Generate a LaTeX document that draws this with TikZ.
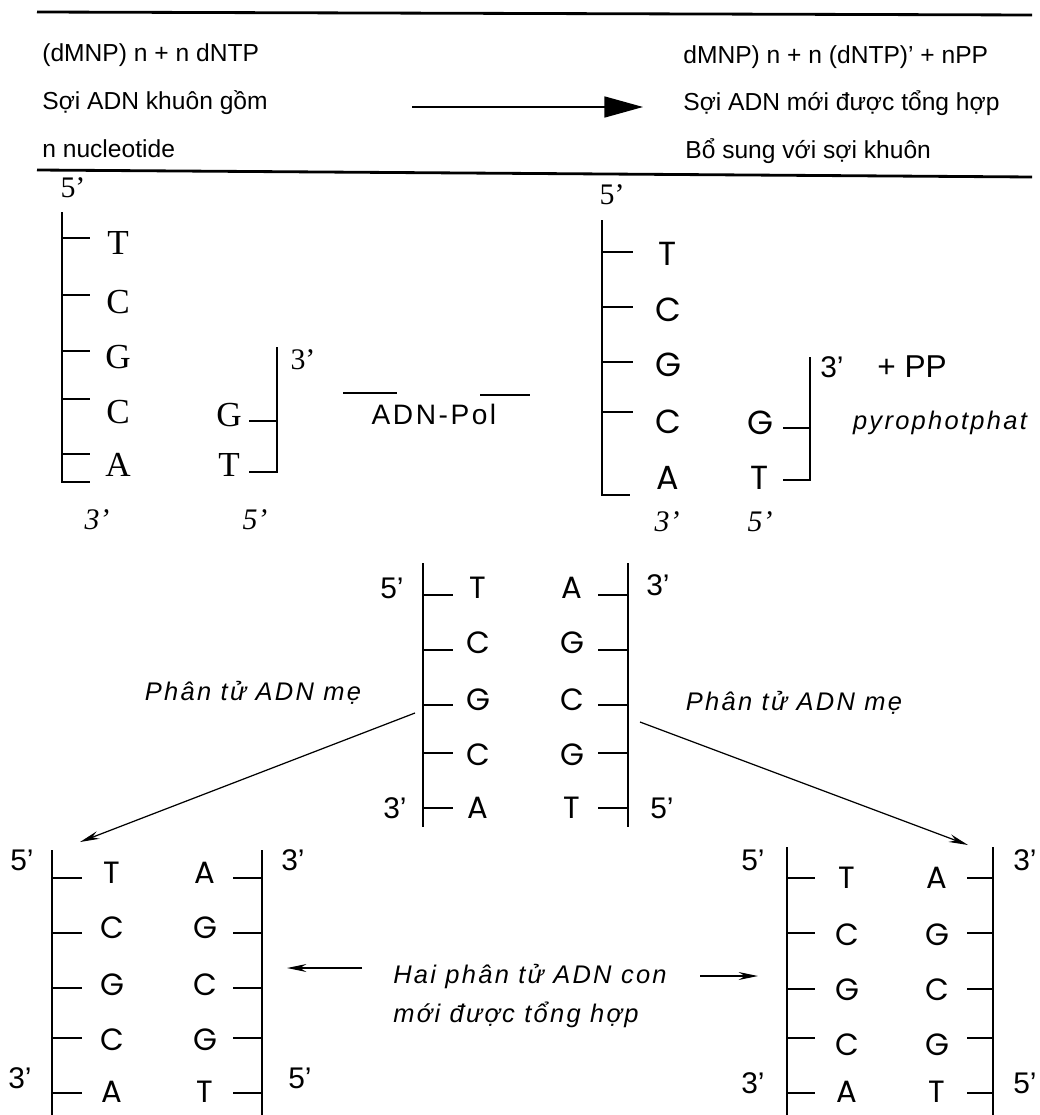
\documentclass[tikz,border=0pt]{standalone}
\usepackage{fontspec}
\setmainfont{Liberation Serif}
\setsansfont{Liberation Sans}
\newfontfamily\geofont{Poppins}
\newfontfamily\handfont[LetterSpace=9]{Liberation Sans}
\usetikzlibrary{arrows.meta}

\tikzset{
  strand/.style={line width=1.4pt},
  bond/.style={line width=1pt},
  rule/.style={line width=1.6pt},
  hdr/.style={anchor=west,inner sep=0pt,font=\sffamily\fontsize{14}{16}\selectfont},
  tbase/.style={inner sep=0pt,font=\fontsize{20}{22}\selectfont},
  gbase/.style={inner sep=0pt,font=\geofont\fontsize{17.5}{19}\selectfont},
  bigbase/.style={inner sep=0pt,font=\geofont\fontsize{19}{21}\selectfont},
  send/.style={inner sep=0pt,font=\fontsize{17}{19}\selectfont},
  nend/.style={inner sep=0pt,font=\sffamily\fontsize{17}{19}\selectfont},
  hand/.style={inner sep=0pt,font=\handfont\itshape\fontsize{14.5}{17}\selectfont},
  split/.style={line width=0.7pt,-{Stealth[length=11pt,width=4.5pt]}},
  short/.style={line width=1pt,-{Stealth[length=11pt,width=4.5pt]}}
}

\begin{document}
\begin{tikzpicture}[x=0.02cm,y=-0.02cm]
\useasboundingbox (0,0) rectangle (1039,1115);

% reaction header
\draw[rule] (37,12) -- (1032,15);
\node[hdr] (sub1) at (42,55) {(dMNP) n + n dNTP};
\node[hdr] (sub2) at (42,103) {Sợi ADN khuôn gồm};
\node[hdr] (sub3) at (42,149) {n nucleotide};
\node[hdr] (prod1) at (683,57) {dMNP) n + n (dNTP)' + nPP};
\node[hdr] (prod2) at (683,103) {Sợi ADN mới được tổng hợp};
\node[hdr] (prod3) at (685,151) {Bổ sung với sợi khuôn};
\coordinate (rxa) at (412,107);
\coordinate (rxb) at (643,107);
\draw[line width=0.8pt,-{Triangle[length=22pt,width=12pt]}] (rxa) -- (rxb);
\draw[rule] (37,170) -- (1032,177);

% template strand with primer
\draw[strand] (62,212) -- (62,482) -- (90,482);
\foreach \b/\y/\t [count=\i] in {T/243/238,C/302/295,G/357/351,C/412/399,A/465/454} {
  \draw[bond] (62,\t) -- (90,\t);
  \node[tbase] (ta\i) at (118,\y) {\b};
}
\node[send] (ta5p) at (73,188) {5'};
\node[send,font=\itshape\fontsize{17}{19}\selectfont] (ta3p) at (97,520) {3'};
\draw[strand] (277,347) -- (277,472) -- (249,472);
\draw[bond] (249,421) -- (277,421);
\node[tbase] (tb1) at (229,415) {G};
\node[tbase] (tb2) at (229,465) {T};
\node[send] (tb3p) at (303,360) {3'};
\node[send,font=\itshape\fontsize{17}{19}\selectfont] (tb5p) at (255,520) {5'};

\node[inner sep=0pt,font=\handfont\fontsize{16}{18}\selectfont] (pol) at (434,414) {ADN-Pol};
\draw[bond] (343,393) -- (397,393);
\draw[bond] (480,395) -- (530,395);

% after one step
\draw[strand] (602,220) -- (602,495) -- (630,495);
\foreach \b/\y/\t [count=\i] in {T/254/252,C/310/307,G/365/362,C/422/412} {
  \draw[bond] (602,\t) -- (633,\t);
  \node[bigbase] (sa\i) at (668,\y) {\b};
}
\node[bigbase] (sa5) at (668,478) {A};
\node[send] (sa5p) at (612,195) {5'};
\node[send,font=\itshape\fontsize{17}{19}\selectfont] (sa3p) at (667,522) {3'};
\draw[strand] (810,357) -- (810,480) -- (783,480);
\draw[bond] (783,428) -- (810,428);
\node[bigbase] (sb1) at (760,423) {G};
\node[bigbase] (sb2) at (760,478) {T};
\node[nend] (sb3p) at (832,367) {3'};
\node[nend,font=\sffamily\fontsize{18}{20}\selectfont] (pp) at (912,367) {+ PP};
\node[send,font=\itshape\fontsize{17}{19}\selectfont] (sb5p) at (760,522) {5'};
\node[hand] (pyro) at (940,423) {pyrophotphat};

% parent molecule
\draw[strand] (423,563) -- (423,827);
\draw[strand] (628,563) -- (628,827);
\foreach \l/\r/\y/\t [count=\i] in {T/A/588/595,C/G/643/650,G/C/700/705,C/G/755/753,A/T/808/808} {
  \draw[bond] (423,\t) -- (453,\t);
  \draw[bond] (598,\t) -- (628,\t);
  \node[gbase] (ml\i) at (478,\y) {\l};
  \node[gbase] (mr\i) at (572,\y) {\r};
}
\node[nend] (m5a) at (392,588) {5'};
\node[nend] (m3a) at (658,585) {3'};
\node[nend] (m3b) at (395,808) {3'};
\node[nend] (m5b) at (662,808) {5'};
\node[hand] (mom1) at (253,693) {Phân tử ADN mẹ};
\node[hand] (mom2) at (794,703) {Phân tử ADN mẹ};

% two daughter molecules
\draw[strand] (52,850) -- (52,1115);
\draw[strand] (262,850) -- (262,1115);
\foreach \l/\r/\y/\t [count=\i] in {T/A/873/878,C/G/928/933,G/C/985/988,C/G/1040/1038,A/T/1092/1093} {
  \draw[bond] (52,\t) -- (82,\t);
  \draw[bond] (233,\t) -- (262,\t);
  \node[gbase] (dl\i) at (112,\y) {\l};
  \node[gbase] (dr\i) at (205,\y) {\r};
}
\node[nend] (d5a) at (22,860) {5'};
\node[nend] (d3a) at (293,860) {3'};
\node[nend] (d3b) at (20,1078) {3'};
\node[nend] (d5b) at (300,1078) {5'};

\draw[strand] (787,847) -- (787,1115);
\draw[strand] (993,847) -- (993,1115);
\foreach \l/\r/\y/\t [count=\i] in {T/A/878/878,C/G/935/933,G/C/990/989,C/G/1045/1038,A/T/1092/1093} {
  \draw[bond] (787,\t) -- (815,\t);
  \draw[bond] (967,\t) -- (993,\t);
  \node[gbase] (el\i) at (847,\y) {\l};
  \node[gbase] (er\i) at (937,\y) {\r};
}
\node[nend] (e5a) at (753,860) {5'};
\node[nend] (e3a) at (1025,860) {3'};
\node[nend] (e3b) at (753,1083) {3'};
\node[nend] (e5b) at (1025,1083) {5'};

\node[hand] (kid1) at (530,977) {Hai phân tử ADN con};
\node[hand] (kid2) at (516,1015) {mới được tổng hợp};

% arrows
\coordinate (sl) at (415,713);
\coordinate (sr) at (640,722);
\coordinate (tl) at (80,842);
\coordinate (tr) at (968,845);
\draw[split] (sl) -- (tl);
\draw[split] (sr) -- (tr);
\coordinate (kl) at (362,968);
\coordinate (kla) at (287,968);
\coordinate (kr) at (700,976);
\coordinate (kra) at (758,976);
\draw[short] (kl) -- (kla);
\draw[short] (kr) -- (kra);
\end{tikzpicture}
\end{document}
